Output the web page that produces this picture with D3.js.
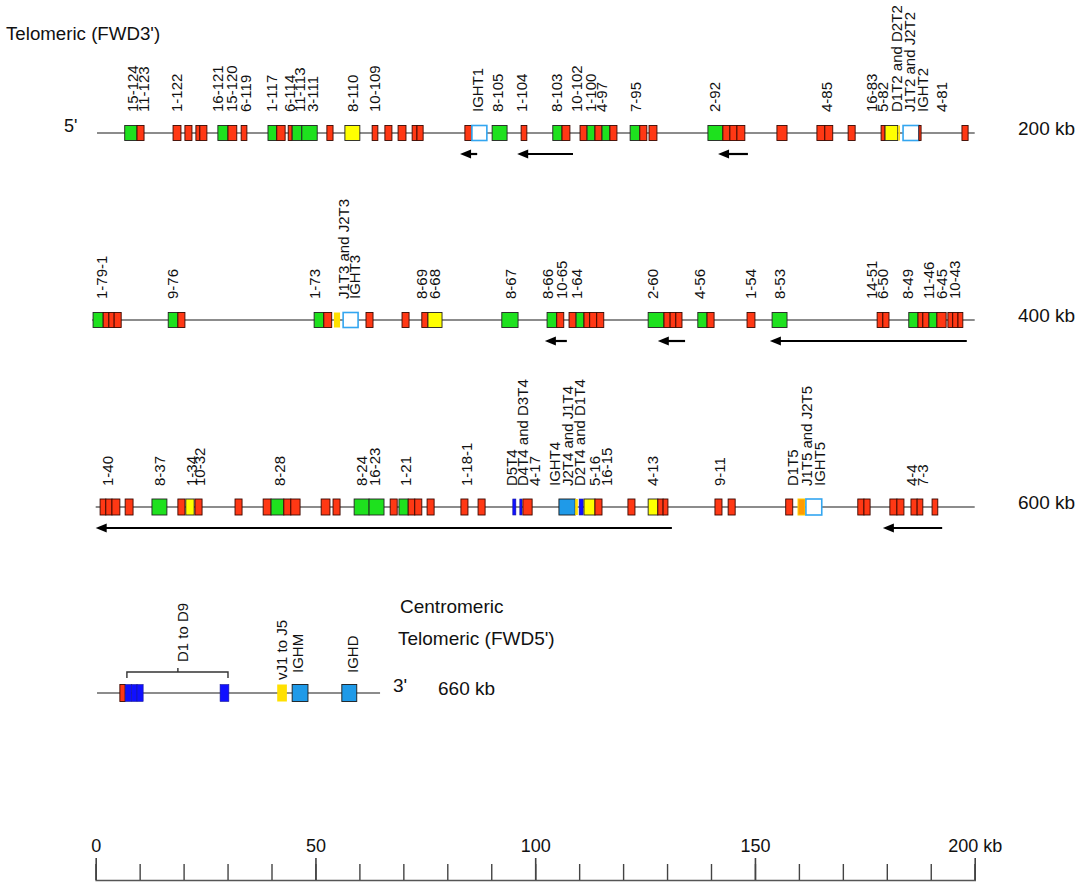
<!DOCTYPE html>
<html><head><meta charset="utf-8">
<script src="https://cdn.jsdelivr.net/npm/d3@7/dist/d3.min.js"></script>
<style>
body{margin:0;background:#fff}
text{font-family:Arial,"Liberation Sans",sans-serif;fill:#111}
</style>
</head><body>
<svg id="chart" width="1084" height="884"></svg>
<script>
// ---------- DATA (kb, relative to row start) ----------
const rowStarts = [0, 200, 400, 600];
const rowLabels = ["200 kb", "400 kb", "600 kb", "660 kb"];
const rowLineExtents = [[0.3, 200], [-0.8, 200], [0, 200], [0.3, 64.7]];

// gene segments: [start kb, end kb, type]
// g = green, r = red, y = yellow, j = yellow J (no border), o = orange J,
// b = blue D, c = constant (light blue), w = white box blue border
const row1Genes = [
  [6.6,9.4,"g"],[9.4,11.0,"r"],
  [17.6,19.4,"r"],[20.3,21.9,"r"],[22.8,23.7,"r"],[23.7,25.3,"r"],
  [27.8,30.1,"g"],[30.1,32.1,"r"],[33.1,34.4,"r"],
  [39.2,41.2,"g"],[41.2,43.1,"r"],[43.8,44.7,"r"],[44.7,46.9,"g"],[46.9,50.4,"g"],
  [52.6,54.0,"r"],[56.7,60.1,"y"],[62.9,64.2,"r"],[65.8,67.4,"r"],[68.8,70.6,"r"],[72.0,73.1,"r"],[73.1,74.5,"r"],
  [84.0,85.6,"r"],[85.6,89.0,"w"],[90.2,93.6,"g"],[96.8,98.1,"r"],
  [104.0,106.1,"g"],[106.1,107.9,"r"],
  [110.2,111.8,"r"],[111.8,113.6,"g"],[113.6,115.2,"r"],[115.2,117.0,"g"],[117.0,118.6,"r"],
  [121.6,123.8,"g"],[123.8,125.4,"r"],[125.9,127.7,"r"],
  [139.3,142.7,"g"],[142.7,144.3,"r"],[144.3,145.9,"r"],[145.9,147.7,"r"],
  [155.0,157.3,"r"],[164.1,165.9,"r"],[165.9,167.7,"r"],[171.2,172.8,"r"],
  [178.7,179.6,"r"],[179.6,182.5,"y"],[182.6,183.0,"j"],[183.7,187.3,"w"],[187.3,187.8,"r"],
  [197.1,198.5,"r"]
];
const row2Genes = [
  [-0.6,1.7,"g"],[1.7,3.0,"r"],[3.0,4.2,"r"],[4.2,5.8,"r"],
  [16.5,18.7,"g"],[18.7,20.3,"r"],
  [49.7,51.9,"g"],[51.9,53.7,"r"],[54.2,55.6,"j"],[56.3,59.7,"w"],
  [61.5,63.1,"r"],[69.7,71.3,"r"],[74.2,75.6,"r"],[75.6,78.8,"y"],
  [92.4,96.1,"g"],
  [102.7,104.9,"g"],[104.9,106.5,"r"],
  [107.7,109.3,"r"],[109.3,111.1,"g"],[111.1,112.4,"r"],[112.4,114.0,"r"],[114.0,115.6,"r"],
  [125.7,129.3,"g"],[129.3,130.7,"r"],[130.7,132.0,"r"],[132.0,133.4,"r"],
  [137.0,139.1,"g"],[139.1,140.7,"r"],
  [148.2,150.0,"r"],[153.9,157.3,"g"],
  [177.8,179.1,"r"],[179.1,180.5,"r"],
  [185.0,187.1,"g"],[187.1,188.2,"r"],[188.2,189.6,"r"],[189.6,191.4,"g"],[191.4,193.5,"r"],
  [193.9,195.0,"r"],[195.0,196.2,"r"],[196.2,197.3,"r"]
];
const row3Genes = [
  [1.0,2.3,"r"],[2.3,3.7,"r"],[3.7,5.5,"r"],[6.7,8.5,"r"],
  [12.8,16.2,"g"],
  [18.7,20.3,"r"],[20.5,22.4,"y"],[22.6,24.2,"r"],
  [31.7,33.3,"r"],
  [38.1,39.9,"r"],[39.9,42.8,"g"],[42.8,44.4,"r"],[44.4,46.5,"r"],
  [51.3,53.3,"r"],[54.0,55.6,"r"],
  [58.8,62.2,"g"],[62.2,65.6,"g"],
  [67.0,68.6,"r"],[69.0,71.1,"g"],[71.1,72.6,"r"],[72.6,74.2,"r"],[75.4,77.0,"r"],
  [83.1,84.7,"r"],[87.0,88.6,"r"],
  [94.9,95.6,"b"],[96.5,97.0,"b"],[97.2,99.3,"r"],
  [105.4,109.1,"c"],[109.1,109.7,"j"],[110.0,110.9,"b"],[111.1,113.6,"y"],[113.6,115.2,"r"],
  [121.1,122.7,"r"],
  [125.7,127.9,"y"],[127.9,129.1,"r"],[129.1,130.2,"r"],
  [140.9,142.5,"r"],[143.9,145.5,"r"],
  [157.0,158.6,"r"],[159.8,161.4,"o"],[161.6,165.2,"w"],
  [173.4,174.8,"r"],[174.8,176.2,"r"],
  [180.7,182.3,"r"],[182.3,183.9,"r"],
  [185.5,186.9,"r"],[186.9,188.2,"r"],
  [190.3,191.6,"r"]
];
const row4Genes = [
  [5.5,6.7,"r"],[6.7,8.1,"b"],[8.1,9.4,"b"],[9.4,10.8,"b"],
  [28.3,30.3,"b"],[41.3,43.5,"j"],[44.7,48.3,"c"],[56.0,59.4,"c"]
];

// gene names: [text, kb]
const row1Names = [
  ["15-124",8.3],["11-123",10.8],["1-122",18.5],["16-121",27.8],["15-120",31.0],["6-119",34.0],
  ["1-117",40.1],["6-114",44.2],["11-113",46.5],["3-111",49.4],["8-110",58.5],["10-109",63.5],
  ["IGHT1",87.0],["8-105",91.5],["1-104",97.0],["8-103",104.9],["10-102",109.5],["1-100",112.5],
  ["4-97",115.2],["7-95",122.9],["2-92",140.9],["4-85",166.4],["16-83",176.6],["5-82",179.1],
  ["D1T2 and D2T2",182.3],["J1T2 and J2T2",185.3],["IGHT2",188.2],["4-81",192.5]
];
const row2Names = [
  ["1-79-1",1.4],["9-76",17.6],["1-73",49.9],["J1T3 and J2T3",56.3],["IGHT3",59.0],
  ["8-69",74.2],["6-68",77.2],["8-67",94.3],["8-66",102.9],["10-65",106.1],["1-64",109.5],
  ["2-60",126.8],["4-56",137.5],["1-54",148.9],["8-53",155.7],["14-51",176.6],["6-50",179.1],
  ["8-49",184.8],["11-46",189.4],["6-45",192.5],["10-43",195.5]
];
const row3Names = [
  ["1-40",2.8],["8-37",14.6],["1-34",21.9],["10-32",23.7],["8-28",41.9],["8-24",60.6],
  ["16-23",63.5],["1-21",70.4],["1-18-1",84.5],["D5T4",94.7],["D4T4 and D3T4",97.2],
  ["4-17",99.9],["IGHT4",104.5],["J2T4 and J1T4",107.4],["D2T4 and D1T4",110.2],
  ["5-16",113.6],["16-15",116.3],["4-13",126.8],["9-11",142.0],["D1T5",158.6],
  ["J1T5 and J2T5",161.8],["IGHT5",164.8],["4-4",185.7],["7-3",188.2]
];
const row4Names = [["D1 to D9",19.7,-31],["vJ1 to J5",42.4,-13],["IGHM",46.0,-20],["IGHD",58.5,-20]];
const row4Bracket = [7.1, 30.1, 18.7];

// orientation arrows: [from kb (head), to kb]
const row1Arrows = [[82.9,86.8],[95.9,108.6],[141.6,148.4]];
const row2Arrows = [[102.2,107.2],[127.9,134.1],[153.4,198.2]];
const row3Arrows = [[0,131.1],[179.1,192.6]];
const row4Arrows = [];

const axisMajor = [0, 50, 100, 150, 200];
const axisMinor = d3.range(0, 201, 10);
const axisTickLabels = ["0", "50", "100", "150", "200 kb"];

// ---------- DRAW ----------
const rowsGenes = [row1Genes, row2Genes, row3Genes, row4Genes];
const rowsNames = [row1Names, row2Names, row3Names, row4Names];
const rowsArrows = [row1Arrows, row2Arrows, row3Arrows, row4Arrows];
const rowY = [133, 320, 507, 693];
const boxH = [15, 15, 16, 17];

const svg = d3.select("#chart");
const x = d3.scaleLinear().domain([0, 200]).range([95.7, 974.7]);

const style = {
  g: {fill: "#1ee11e", stroke: "#222", sw: 0.9},
  r: {fill: "#ff3814", stroke: "#3a0800", sw: 0.9},
  y: {fill: "#ffff00", stroke: "#222", sw: 0.9},
  j: {fill: "#ffe000", stroke: "none", sw: 0},
  o: {fill: "#ff9a00", stroke: "#ffd000", sw: 1},
  b: {fill: "#1010ff", stroke: "#1a1a9a", sw: 0.6},
  c: {fill: "#1f9ae8", stroke: "#1a1a1a", sw: 0.9},
  w: {fill: "#ffffff", stroke: "#33a6f0", sw: 1.6}
};

svg.append("text").attr("x", 6).attr("y", 40).attr("font-size", 18.7).text("Telomeric (FWD3')");
svg.append("text").attr("x", 64).attr("y", 132).attr("font-size", 18).text("5'");

rowsGenes.forEach((genes, i) => {
  const y0 = rowY[i];
  const g = svg.append("g");
  const ext = rowLineExtents[i];
  g.append("line").attr("x1", x(ext[0])).attr("x2", x(ext[1]))
    .attr("y1", y0).attr("y2", y0).attr("stroke", "#666").attr("stroke-width", 1.6);

  const h = boxH[i];
  g.selectAll("rect").data(genes).join("rect")
    .attr("x", d => x(d[0])).attr("width", d => x(d[1]) - x(d[0]))
    .attr("y", y0 - h / 2).attr("height", h)
    .attr("fill", d => style[d[2]].fill)
    .attr("stroke", d => style[d[2]].stroke)
    .attr("stroke-width", d => style[d[2]].sw);

  g.selectAll("text.name").data(rowsNames[i]).join("text").attr("class", "name")
    .attr("font-size", 15)
    .attr("transform", d => `translate(${x(d[0] === undefined ? 0 : d[1])},${y0 + (d[2] !== undefined ? d[2] : -21)}) rotate(-90)`)
    .attr("dy", "0.36em")
    .text(d => d[0]);

  const arrows = g.selectAll("g.arrow").data(rowsArrows[i]).join("g").attr("class", "arrow");
  const ay = y0 + 21;
  arrows.append("line").attr("x1", d => x(d[0]) + 6).attr("x2", d => x(d[1]))
    .attr("y1", ay).attr("y2", ay).attr("stroke", "#000").attr("stroke-width", 2.2);
  arrows.append("path").attr("d", d => {
    const hx = x(d[0]);
    return `M${hx},${ay} L${hx + 11},${ay - 4.5} L${hx + 11},${ay + 4.5} Z`;
  }).attr("fill", "#000");

  svg.append("text").attr("font-size", 19)
    .attr("x", i < 3 ? 1018 : 438).attr("y", y0 + 2).text(rowLabels[i]);
});

// Row 4 extras
{
  const y0 = rowY[3];
  const b = row4Bracket;
  svg.append("path")
    .attr("d", `M${x(b[0])},${y0 - 15} V${y0 - 21} H${x(b[1])} V${y0 - 15} M${x(b[2])},${y0 - 21} V${y0 - 25}`)
    .attr("fill", "none").attr("stroke", "#333").attr("stroke-width", 1.4);
  svg.append("text").attr("x", 393).attr("y", y0 - 1).attr("font-size", 19).text("3'");
  svg.append("text").attr("x", 400).attr("y", 613).attr("font-size", 19).text("Centromeric");
  svg.append("text").attr("x", 398).attr("y", 645).attr("font-size", 19).text("Telomeric (FWD5')");
}

// Scale axis
const axisY = 880;
const minorAxis = d3.axisTop(x).tickValues(axisMinor).tickSize(16).tickFormat("");
const majorAxis = d3.axisTop(x).tickValues(axisMajor).tickSize(22).tickPadding(6)
  .tickFormat((d, i) => axisTickLabels[i]);
const ga = svg.append("g").attr("transform", `translate(0,${axisY})`).call(minorAxis);
ga.select(".domain").attr("stroke", "#555").attr("stroke-width", 1.6);
ga.selectAll(".tick line").attr("stroke", "#444").attr("stroke-width", 1.4);
const gb = svg.append("g").attr("transform", `translate(0,${axisY})`).call(majorAxis);
gb.select(".domain").remove();
gb.selectAll(".tick line").attr("stroke", "#444").attr("stroke-width", 1.6);
gb.selectAll(".tick text").attr("font-size", 18).attr("fill", "#111")
  .attr("font-family", "Arial, 'Liberation Sans', sans-serif");
</script>
</body></html>
